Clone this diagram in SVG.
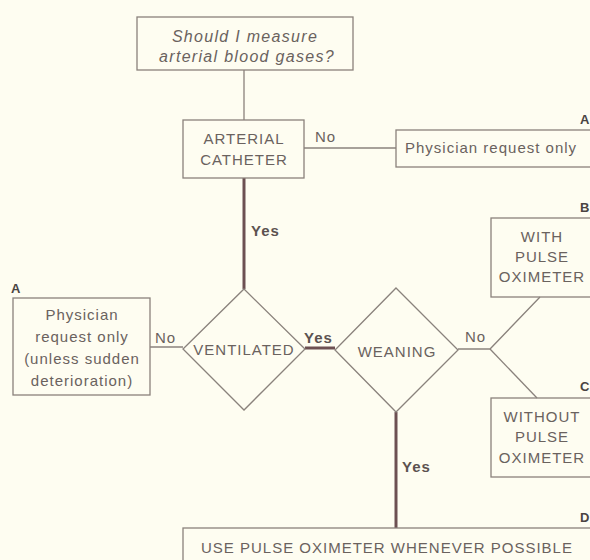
<svg xmlns="http://www.w3.org/2000/svg" width="590" height="560" viewBox="0 0 590 560">
<style>
.bg{fill:#fefdf1}
.box{fill:none;stroke:#8a827c;stroke-width:1.3}
.ln{fill:none;stroke:#8a827c;stroke-width:1.3}
.thick{fill:none;stroke:#6d5052;stroke-width:3}
text{font-family:Helvetica,"Liberation Sans",Arial,sans-serif;font-size:15px;letter-spacing:1px;fill:#6a625e}
.c{text-anchor:middle}
.i{font-style:italic;font-size:16px;letter-spacing:1.3px}
.b{font-weight:bold;fill:#5c5250}
.lab{font-weight:bold;fill:#4a4442;font-size:13px;letter-spacing:0}
</style>
<rect class="bg" x="0" y="0" width="590" height="560"/>
<g id="connectors">
<line class="ln" x1="244" y1="70" x2="244" y2="120"/>
<line class="ln" x1="304" y1="148" x2="396" y2="148"/>
<line class="thick" x1="244" y1="178" x2="244" y2="289"/>
<line class="ln" x1="150" y1="347" x2="183" y2="347"/>
<line class="thick" x1="305" y1="348" x2="335" y2="348"/>
<polyline class="ln" points="458,349 490,349 540,297"/>
<line class="ln" x1="490" y1="349" x2="537" y2="398"/>
<line class="thick" x1="396" y1="412" x2="396" y2="528"/>
<text x="315" y="142">No</text>
<text class="b" x="251" y="236">Yes</text>
<text x="155" y="343">No</text>
<text class="b" x="304" y="343">Yes</text>
<text x="465" y="342">No</text>
<text class="b" x="402" y="472">Yes</text>
</g>
<g id="start">
<rect class="box" x="137" y="17" width="216" height="53"/>
<text class="c i" x="245" y="42">Should I measure</text>
<text class="c i" x="247" y="62">arterial blood gases?</text>
</g>
<g id="catheter">
<rect class="box" x="183" y="120" width="121" height="58"/>
<text class="c" x="244" y="144">ARTERIAL</text>
<text class="c" x="244" y="165">CATHETER</text>
</g>
<g id="physA1">
<rect class="box" x="396" y="130" width="200" height="37"/>
<text x="405" y="153">Physician request only</text>
<text class="lab" x="580" y="124">A</text>
</g>
<g id="ventilated">
<polygon class="box" points="244,289 305,349 244,410 183,349"/>
<text class="c" x="244" y="355">VENTILATED</text>
</g>
<g id="physA2">
<rect class="box" x="13" y="298" width="137" height="97"/>
<text class="c" x="82" y="320">Physician</text>
<text class="c" x="82" y="342">request only</text>
<text class="c" x="82" y="364">(unless sudden</text>
<text class="c" x="82" y="386">deterioration)</text>
<text class="lab" x="11" y="293">A</text>
</g>
<g id="weaning">
<polygon class="box" points="396,288 458,350 396,412 335,350"/>
<text class="c" x="397" y="357">WEANING</text>
</g>
<g id="withB">
<rect class="box" x="491" y="218" width="105" height="79"/>
<text class="c" x="542" y="242">WITH</text>
<text class="c" x="542" y="262">PULSE</text>
<text class="c" x="542" y="282">OXIMETER</text>
<text class="lab" x="580" y="212">B</text>
</g>
<g id="withoutC">
<rect class="box" x="491" y="398" width="105" height="79"/>
<text class="c" x="542" y="422">WITHOUT</text>
<text class="c" x="542" y="442">PULSE</text>
<text class="c" x="542" y="463">OXIMETER</text>
<text class="lab" x="580" y="391">C</text>
</g>
<g id="useD">
<rect class="box" x="183" y="528" width="413" height="40"/>
<text x="201" y="553">USE PULSE OXIMETER WHENEVER POSSIBLE</text>
<text class="lab" x="580" y="522">D</text>
</g>
</svg>
